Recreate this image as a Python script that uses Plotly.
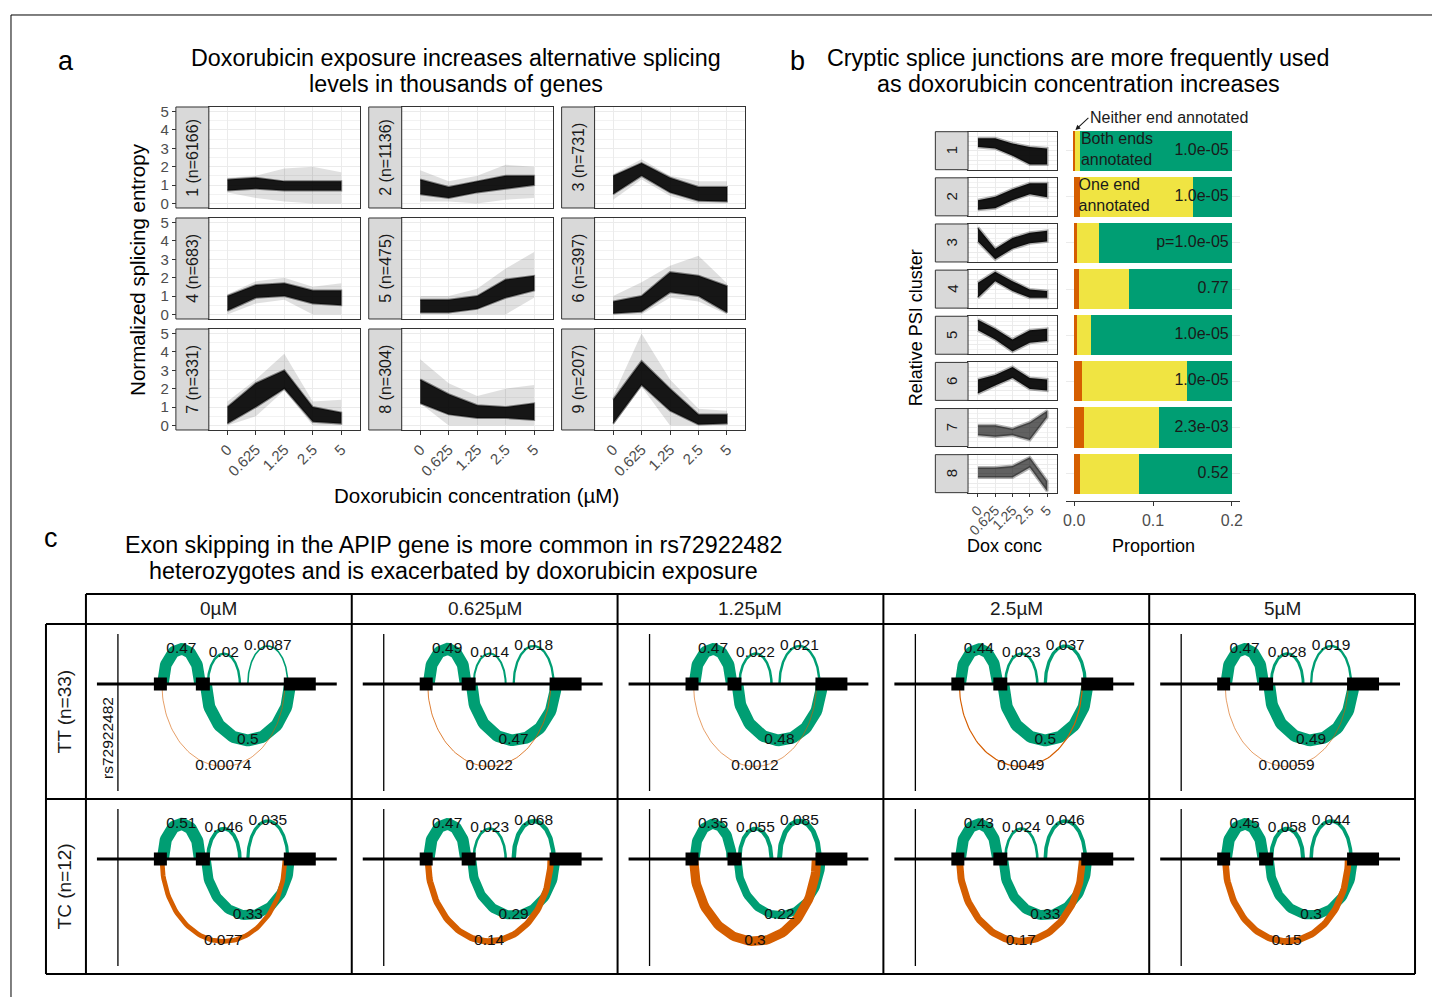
import numpy as np
import plotly.graph_objects as go

W, H = 1432, 997
FONT = "Liberation Sans, Arial, Helvetica, sans-serif"

# ---------------- Panel a data: normalized splicing entropy clusters ----------------
conc_labels = ["0", "0.625", "1.25", "2.5", "5"]
a_cluster_labels = ["1 (n=6166)", "2 (n=1136)", "3 (n=731)",
                    "4 (n=683)", "5 (n=475)", "6 (n=397)",
                    "7 (n=331)", "8 (n=304)", "9 (n=207)"]
# dense core of the line bundle (low / high) at each concentration
a_core_lo = [[0.7, 0.8, 0.7, 0.7, 0.7], [0.5, 0.3, 0.6, 0.8, 1.0], [0.5, 1.5, 0.6, 0.15, 0.1],
             [0.2, 0.9, 1.0, 0.6, 0.5], [0.1, 0.1, 0.3, 0.9, 1.3], [0.05, 0.15, 1.2, 1.0, 0.1],
             [0.1, 1.0, 2.0, 0.2, 0.1], [1.2, 0.6, 0.4, 0.4, 0.3], [0.1, 2.2, 0.8, 0.05, 0.1]]
a_core_hi = [[1.3, 1.4, 1.2, 1.2, 1.2], [1.3, 0.9, 1.2, 1.5, 1.5], [1.5, 2.2, 1.4, 0.9, 0.9],
             [1.0, 1.6, 1.7, 1.3, 1.3], [0.8, 0.8, 1.0, 1.9, 2.1], [0.7, 1.0, 2.3, 2.1, 1.55],
             [1.0, 2.3, 3.0, 1.0, 0.7], [2.5, 1.7, 1.1, 1.0, 1.2], [1.4, 3.5, 2.0, 0.6, 0.6]]
# faint outer envelope of the bundle
a_outer_lo = [[0.6, 0.3, 0.1, 0.0, 0.0], [0.1, 0.1, 0.0, 0.2, 0.3], [0.2, 1.3, 0.4, 0.0, 0.0],
              [0.0, 0.6, 0.8, 0.0, 0.0], [0.0, 0.0, 0.0, 0.0, 0.9], [0.0, 0.0, 0.9, 0.7, 0.0],
              [0.0, 0.5, 1.9, 0.0, 0.0], [1.2, 0.0, 0.0, 0.0, 0.0], [0.0, 2.1, 0.0, 0.0, 0.0]]
a_outer_hi = [[1.4, 1.5, 1.9, 2.0, 1.7], [1.8, 1.2, 1.5, 2.1, 2.0], [1.6, 2.4, 1.5, 1.2, 1.2],
              [1.1, 1.8, 2.0, 1.5, 1.7], [1.0, 1.0, 1.4, 2.5, 3.4], [1.0, 1.75, 2.65, 3.2, 1.7],
              [1.3, 2.5, 3.9, 1.3, 1.4], [3.6, 2.3, 1.6, 2.0, 2.2], [1.6, 5.0, 2.5, 0.9, 0.8]]

# ---------------- Panel b data: relative PSI clusters and junction types ----------------
b_clusters = ["1", "2", "3", "4", "5", "6", "7", "8"]
b_psi_lo = [[0.60, 0.56, 0.37, 0.14, 0.14], [0.16, 0.20, 0.41, 0.57, 0.49], [0.54, 0.07, 0.35, 0.49, 0.54],
            [0.27, 0.71, 0.45, 0.27, 0.27], [0.63, 0.39, 0.07, 0.30, 0.35], [0.18, 0.39, 0.59, 0.30, 0.26],
            [0.30, 0.26, 0.30, 0.17, 0.77], [0.40, 0.40, 0.40, 0.66, 0.04]]
b_psi_hi = [[0.83, 0.83, 0.69, 0.60, 0.56], [0.41, 0.50, 0.70, 0.86, 0.86], [0.91, 0.35, 0.63, 0.77, 0.82],
            [0.67, 0.96, 0.71, 0.49, 0.45], [0.91, 0.67, 0.39, 0.63, 0.67], [0.55, 0.67, 0.88, 0.59, 0.55],
            [0.56, 0.56, 0.47, 0.64, 0.94], [0.66, 0.66, 0.70, 0.93, 0.31]]
b_neither = [0.001, 0.0067, 0.003, 0.0055, 0.0034, 0.0097, 0.0118, 0.0068]
b_one_end = [0.006, 0.1446, 0.0287, 0.0634, 0.0182, 0.134, 0.096, 0.076]
b_both = [0.193, 0.0487, 0.1683, 0.1311, 0.1784, 0.0563, 0.0922, 0.1172]
b_pvalues = ["1.0e-05", "1.0e-05", "p=1.0e-05", "0.77", "1.0e-05", "1.0e-05", "2.3e-03", "0.52"]

# ---------------- Panel c data: APIP sashimi ----------------
c_conc = ["0\u00b5M", "0.625\u00b5M", "1.25\u00b5M", "2.5\u00b5M", "5\u00b5M"]
c_genotypes = ["TT (n=33)", "TC (n=12)"]
gene_span = [11, 251]
exon_starts = [68, 110, 198]
exon_ends = [81, 124, 230]
junction_starts = [77, 122, 162, 120, 76]
junction_ends = [114, 154, 202, 204, 199]
junction_side = [1, 1, 1, -1, -1]
junction_is_skip = [False, False, False, False, True]
usage_TT = [[0.47, 0.02, 0.0087, 0.5, 0.00074],
            [0.49, 0.014, 0.018, 0.47, 0.0022],
            [0.47, 0.022, 0.021, 0.48, 0.0012],
            [0.44, 0.023, 0.037, 0.5, 0.0049],
            [0.47, 0.028, 0.019, 0.49, 0.00059]]
usage_TC = [[0.51, 0.046, 0.035, 0.33, 0.077],
            [0.47, 0.023, 0.068, 0.29, 0.14],
            [0.35, 0.055, 0.085, 0.22, 0.3],
            [0.43, 0.024, 0.046, 0.33, 0.17],
            [0.45, 0.058, 0.044, 0.3, 0.15]]
usage_labels_TT = [["0.47", "0.02", "0.0087", "0.5", "0.00074"],
                   ["0.49", "0.014", "0.018", "0.47", "0.0022"],
                   ["0.47", "0.022", "0.021", "0.48", "0.0012"],
                   ["0.44", "0.023", "0.037", "0.5", "0.0049"],
                   ["0.47", "0.028", "0.019", "0.49", "0.00059"]]
usage_labels_TC = [["0.51", "0.046", "0.035", "0.33", "0.077"],
                   ["0.47", "0.023", "0.068", "0.29", "0.14"],
                   ["0.35", "0.055", "0.085", "0.22", "0.3"],
                   ["0.43", "0.024", "0.046", "0.33", "0.17"],
                   ["0.45", "0.058", "0.044", "0.3", "0.15"]]

GREEN = "#009E73"
YELLOW = "#F0E442"
ORANGE = "#D55E00"
GRID = "#EBEBEB"
BORDER = "#333333"
TICKTXT = "#4D4D4D"


# layout pixel -> paper fraction (small correction for how the page is photographed)
def PX(x):
    return ((x - 2.0) / 0.9965) / W


def PY(y):
    return 1 - ((y - 3.0) / 0.992) / H


fig = go.Figure()
axes = {}
counter = [0]
annotations = []
shapes = []


def _names(k):
    s = "" if k == 1 else str(k)
    return "xaxis" + s, "yaxis" + s, "x" + s, "y" + s


def add_axes(px0, px1, py0, py1, xr, yr, xkw=None, ykw=None):
    counter[0] += 1
    xn, yn, xref, yref = _names(counter[0])
    xd = dict(domain=[PX(px0), PX(px1)], range=xr, anchor=yref, showgrid=False, zeroline=False,
              showticklabels=False, ticks="", fixedrange=True)
    yd = dict(domain=[PY(py1), PY(py0)], range=yr, anchor=xref, showgrid=False, zeroline=False,
              showticklabels=False, ticks="", fixedrange=True)
    xd.update(xkw or {})
    yd.update(ykw or {})
    axes[xn] = xd
    axes[yn] = yd
    return xref, yref


def add_free_y(base_yref, pos_px, yr, ykw):
    counter[0] += 1
    _, yn, _, yref = _names(counter[0])
    yd = dict(overlaying=base_yref, anchor="free", position=PX(pos_px), side="left", range=yr,
              showgrid=False, zeroline=False, showline=False, fixedrange=True)
    yd.update(ykw)
    axes[yn] = yd
    return yref


def ann(text, x, y, size, color="#000000", **kw):
    d = dict(text=text, x=PX(x), y=PY(y), xref="paper", yref="paper", showarrow=False,
             font=dict(size=size, family=FONT, color=color), xanchor="center", yanchor="middle")
    d.update(kw)
    annotations.append(d)


def rect(x0, y0, x1, y1, fill, line=BORDER, lw=1):
    shapes.append(dict(type="rect", xref="paper", yref="paper", x0=PX(x0), x1=PX(x1),
                       y0=PY(y1), y1=PY(y0), fillcolor=fill, line=dict(color=line, width=lw),
                       layer="above"))


def seg(x0, y0, x1, y1, lw=2, color="black"):
    shapes.append(dict(type="line", xref="paper", yref="paper", x0=PX(x0), x1=PX(x1),
                       y0=PY(y0), y1=PY(y1), line=dict(color=color, width=lw), layer="above"))


def band(xref, yref, xs, lo, hi, fillcolor, edge=None, edgew=0):
    fig.add_trace(go.Scatter(x=list(xs) + list(xs)[::-1], y=list(hi) + list(lo)[::-1], fill="toself",
                             fillcolor=fillcolor, mode="lines",
                             line=dict(color=edge or "rgba(0,0,0,0)", width=edgew),
                             xaxis=xref, yaxis=yref, hoverinfo="skip"))


# outer frame of the figure
seg(10, 14, 1440, 14, lw=1)
seg(10, 14, 10, 1005, lw=1)

# ======================= Panel a =======================
xpos = [1, 2, 3, 4, 5]
strip_l = [175, 368, 561]
a_tops = [106, 217, 328]
a_h = 101
a_yr = [-0.25, 5.25]
for i in range(9):
    r, c = divmod(i, 3)
    sx = strip_l[c]
    px0, px1 = sx + 33, sx + 184
    py0, py1 = a_tops[r], a_tops[r] + a_h
    xkw = dict(showgrid=True, gridcolor=GRID, gridwidth=1, tickvals=xpos, ticktext=conc_labels,
               showline=True, mirror=True, linecolor=BORDER, linewidth=1)
    if r == 2:
        xkw.update(ticks="outside", ticklen=4, tickcolor=BORDER, showticklabels=True, tickangle=-45,
                   tickfont=dict(size=15, color=TICKTXT, family=FONT))
    ykw = dict(showgrid=True, gridcolor=GRID, gridwidth=1, tickvals=[0, 1, 2, 3, 4, 5],
               minor=dict(tickvals=[0.5, 1.5, 2.5, 3.5, 4.5], showgrid=True, gridcolor="#F2F2F2", gridwidth=0.6),
               showline=True, mirror=True, linecolor=BORDER, linewidth=1)
    xr_, yr_ = add_axes(px0, px1, py0, py1, [0.35, 5.65], a_yr, xkw, ykw)
    band(xr_, yr_, xpos, a_outer_lo[i], a_outer_hi[i], "rgba(0,0,0,0.12)")
    band(xr_, yr_, xpos, a_core_lo[i], a_core_hi[i], "rgba(0,0,0,0.9)", "rgba(0,0,0,0.45)", 2)
    rect(sx, py0, sx + 33, py1, "#D9D9D9")
    ann(a_cluster_labels[i], sx + 16.5, (py0 + py1) / 2, 16, color="#1A1A1A", textangle=-90)
    if c == 0:
        fy = add_free_y(yr_, sx, a_yr, dict(tickvals=[0, 1, 2, 3, 4, 5], ticks="outside", ticklen=4,
                                             tickcolor=BORDER, showticklabels=True,
                                             tickfont=dict(size=15, color=TICKTXT, family=FONT)))
        fig.add_trace(go.Scatter(x=[3], y=[0], xaxis=xr_, yaxis=fy, mode="markers",
                                 marker=dict(opacity=0), hoverinfo="skip"))

TITLE = 23.3
ann("a", 65, 60, 27)
ann("Doxorubicin exposure increases alternative splicing", 455, 57, TITLE)
ann("levels in thousands of genes", 455, 83, TITLE)
ann("Normalized splicing entropy", 137, 268, 20.5, textangle=-90)
ann("Doxorubicin concentration (\u00b5M)", 476, 495, 20.5)

# ======================= Panel b =======================
row_c = [149.7 + 46.14 * k for k in range(8)]
for k in range(8):
    py0, py1 = row_c[k] - 19, row_c[k] + 19
    xkw = dict(showgrid=True, gridcolor=GRID, tickvals=xpos, ticktext=conc_labels,
               showline=True, mirror=True, linecolor=BORDER, linewidth=1)
    if k == 7:
        xkw.update(ticks="outside", ticklen=3, tickcolor=BORDER, showticklabels=True, tickangle=-45,
                   tickfont=dict(size=14, color=TICKTXT, family=FONT))
    ykw = dict(showgrid=True, gridcolor=GRID, tickvals=[0, 0.25, 0.5, 0.75, 1.0],
               minor=dict(tickvals=[0.125, 0.375, 0.625, 0.875], showgrid=True, gridcolor="#F2F2F2"),
               showline=True, mirror=True, linecolor=BORDER, linewidth=1)
    xr_, yr_ = add_axes(967.7, 1056.7, py0, py1, [0.43, 5.57], [0, 1], xkw, ykw)
    alpha = 0.62 if k >= 6 else 0.92
    band(xr_, yr_, xpos, b_psi_lo[k], b_psi_hi[k], "rgba(0,0,0,%.2f)" % alpha,
         "rgba(0,0,0,0.3)", 3)
    rect(935, py0, 967.7, py1, "#D9D9D9")
    ann(b_clusters[k], 951.3, row_c[k], 15, color="#1A1A1A", textangle=-90)

bx, by = add_axes(1066, 1240, 122, 500.4, [-0.0101, 0.2105], [8.6, 0.4],
                  dict(showline=True, linecolor=BORDER, linewidth=1, ticks="outside", ticklen=4,
                       tickcolor=BORDER, tickvals=[0, 0.1, 0.2], ticktext=["0.0", "0.1", "0.2"],
                       showticklabels=True, tickfont=dict(size=16, color=TICKTXT, family=FONT)),
                  dict(showgrid=True, gridcolor=GRID, tickvals=list(range(1, 9))))
rows = list(range(1, 9))
for vals, col in [(b_neither, ORANGE), (b_one_end, YELLOW), (b_both, GREEN)]:
    fig.add_trace(go.Bar(y=rows, x=vals, orientation="h", width=0.87, marker=dict(color=col, line=dict(width=0)),
                         xaxis=bx, yaxis=by, hoverinfo="skip"))
fig.add_trace(go.Scatter(x=[0.196] * 8, y=rows, text=b_pvalues, mode="text", textposition="middle left",
                         textfont=dict(size=16, color="#1A1A1A", family=FONT), xaxis=bx, yaxis=by,
                         hoverinfo="skip", cliponaxis=False))
fig.add_trace(go.Scatter(x=[0.0085, 0.0055], y=[1, 2], text=["Both ends<br>annotated", "One end<br>annotated"],
                         mode="text", textposition="middle right",
                         textfont=dict(size=16, color="#1A1A1A", family=FONT), xaxis=bx, yaxis=by,
                         hoverinfo="skip", cliponaxis=False))
annotations.append(dict(text="Neither end annotated", x=0.0015, y=0.55, xref=bx, yref=by, ax=13, ay=-12,
                        xanchor="left", yanchor="middle",
                        showarrow=True, arrowhead=2, arrowsize=0.9, arrowwidth=1.1, arrowcolor="#1A1A1A",
                        font=dict(size=16, family=FONT, color="#1A1A1A")))

ann("b", 797, 60, 27)
ann("Cryptic splice junctions are more frequently used", 1078, 57, TITLE)
ann("as doxorubicin concentration increases", 1078, 83, TITLE)
ann("Relative PSI cluster", 916, 327, 18, textangle=-90)
ann("Dox conc", 1004, 545, 18)
ann("Proportion", 1153, 545, 18)

# ======================= Panel c =======================
col_l = [85, 351, 617, 883, 1149]
cell_w = 266
row_t = [623, 798]
cell_h = 175
t = np.linspace(0, np.pi, 80)
for g, (usage, labels) in enumerate([(usage_TT, usage_labels_TT), (usage_TC, usage_labels_TC)]):
    for c in range(5):
        xr_, yr_ = add_axes(col_l[c], col_l[c] + cell_w, row_t[g], row_t[g] + cell_h,
                            [0, cell_w], [-(cell_h - 60), 60])
        lx, ly = [], []
        for j in range(5):
            s, e = junction_starts[j], junction_ends[j]
            cx, rx = (s + e) / 2, (e - s) / 2
            ry = (e - s) * (0.95 if junction_side[j] > 0 else 0.67)
            v = usage[c][j]
            fig.add_trace(go.Scatter(x=cx - rx * np.cos(t), y=junction_side[j] * ry * np.sin(t), mode="lines",
                                     line=dict(color=ORANGE if junction_is_skip[j] else GREEN,
                                               width=max(0.6, 17 * np.sqrt(v))),
                                     xaxis=xr_, yaxis=yr_, hoverinfo="skip"))
            lx.append(cx)
            ly.append(junction_side[j] * ry)
        fig.add_trace(go.Scatter(x=gene_span, y=[0, 0], mode="lines", line=dict(color="black", width=3),
                                 xaxis=xr_, yaxis=yr_, hoverinfo="skip"))
        for s, e in zip(exon_starts, exon_ends):
            fig.add_trace(go.Scatter(x=[s, e, e, s, s], y=[-6.5, -6.5, 6.5, 6.5, -6.5], fill="toself",
                                     fillcolor="black", mode="lines", line=dict(width=0, color="black"),
                                     xaxis=xr_, yaxis=yr_, hoverinfo="skip"))
        fig.add_trace(go.Scatter(x=lx, y=ly, text=labels[c], mode="text", textposition="middle center",
                                 textfont=dict(size=15.5, color="#111111", family=FONT),
                                 xaxis=xr_, yaxis=yr_, hoverinfo="skip", cliponaxis=False))
        shapes.append(dict(type="line", xref=xr_, yref=yr_, x0=32, x1=32, y0=50, y1=-107,
                           line=dict(color="black", width=1.3)))
        if g == 0 and c == 0:
            annotations.append(dict(text="rs72922482", x=22, y=-54, xref=xr_, yref=yr_, showarrow=False,
                                    textangle=-90, font=dict(size=15.5, family=FONT, color="#111111")))

# grid of the facet table
seg(85, 593, 1415, 593)
for yy in [623, 798, 973]:
    seg(45, yy, 1415, yy)
seg(45, 623, 45, 973)
for xx in col_l + [1415]:
    seg(xx, 593, xx, 973)
for c in range(5):
    ann(c_conc[c], col_l[c] + cell_w / 2, 608, 19, color="#1A1A1A")
for g in range(2):
    ann(c_genotypes[g], 64, row_t[g] + cell_h / 2, 19, color="#1A1A1A", textangle=-90)

ann("c", 50, 537, 27)
ann("Exon skipping in the APIP gene is more common in rs72922482", 453, 544, TITLE)
ann("heterozygotes and is exacerbated by doxorubicin exposure", 453, 570, TITLE)

fig.update_layout(width=W, height=H, margin=dict(l=0, r=0, t=0, b=0), paper_bgcolor="white",
                  plot_bgcolor="white", showlegend=False, barmode="stack",
                  font=dict(family=FONT, color="#1A1A1A"), annotations=annotations, shapes=shapes, **axes)
fig.write_html("out.html", config={"displayModeBar": False},
               post_script="document.body.style.margin='0px';document.body.style.overflow='hidden';")
